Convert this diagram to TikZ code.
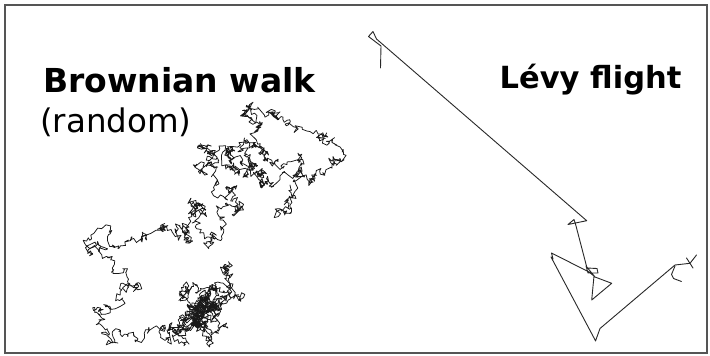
\documentclass[tikz,border=0pt]{standalone}
\usepackage{fontspec}
\setmainfont{DejaVu Sans}
\definecolor{framegray}{RGB}{85,85,85}
\definecolor{inkgray}{RGB}{40,40,40}
\begin{document}
\begin{tikzpicture}[x=1pt,y=-1pt,
  frame/.style={draw=framegray,line width=2pt},
  brownpath/.style={draw=black!90,line width=0.75pt,line join=round,line cap=round},
  levypath/.style={draw=inkgray,line width=0.9pt,line join=round,line cap=round},
  bigtitle/.style={inner sep=0pt,anchor=base west,font=\bfseries\fontsize{33}{38}\selectfont},
  subtitle/.style={inner sep=0pt,anchor=base west,font=\fontsize{32.5}{38}\selectfont},
  levytitle/.style={inner sep=0pt,anchor=base west,font=\bfseries\fontsize{30.5}{36}\selectfont}]
\useasboundingbox (0,0) rectangle (710,356);
\fill[white] (0,0) rectangle (710,356);
\draw[frame] (4.5,4.5) rectangle (706.5,353);

% labels
\node[bigtitle] (brown) at (43,92) {Brownian walk};
\node[subtitle] (random) at (40,132) {(random)};
\node[levytitle] (levy) at (499.5,88) {Lévy flight};

% Brownian walk: a random walk steered through a chain of waypoints,
% drawn one leg at a time
\pgfmathsetseed{4242}
\xdef\wcx{290}\xdef\wcy{185}
\foreach \tx/\ty/\n in {
  278/215/25, 300/180/30, 315/178/18, 342/158/30, 325/140/22, 320/133/12,
  293/130/22, 280/115/22, 258/107/22, 248/118/18, 250/160/80, 245/140/70,
  265/150/35, 300/160/35, 305/175/22, 270/180/35, 250/165/70, 235/170/35,
  222/150/35, 200/143/22, 215/160/35, 205/165/26, 215/185/26, 235/190/22,
  240/207/22, 215/205/26, 197/217/60, 205/205/35, 192/198/26, 190/245/30,
  186/225/22, 165/228/26, 145/233/26, 110/237/26, 90/243/22,
  105/252/18, 130/273/30, 137/285/18, 115/297/22, 100/312/22,
  105/335/26, 115/342/10, 133/332/18, 150/330/18, 170/338/22,
  190/305/50, 222/272/45, 195/320/80, 240/300/45, 185/285/70,
  210/340/55, 200/300/110, 175/330/55, 205/310/90, 192/315/80,
  215/290/60, 195/305/90, 225/325/45, 198/312/80}{
  \xdef\wsx{\wcx}\xdef\wsy{\wcy}
  \xdef\walkpts{}
  \foreach \k in {1,...,\n}{
    \pgfmathsetmacro\wrem{\n-\k+1}
    \pgfmathsetmacro\wnx{\wcx+(\tx-\wcx)/\wrem+4.2*rand}
    \pgfmathsetmacro\wny{\wcy+(\ty-\wcy)/\wrem+4.2*rand}
    \xdef\wcx{\wnx}\xdef\wcy{\wny}
    \xdef\walkpts{\walkpts -- (\wnx,\wny)}
  }
  \edef\walkdraw{\noexpand\draw[brownpath] (\wsx,\wsy) \walkpts;}
  \walkdraw
}

% Levy flight: long jumps between small local clusters
\draw[levypath] (380.5,68) -- (381,46) -- (368.5,36.5) -- (373,31.5) -- (376.5,39)
  -- (586.7,220.7) -- (568,224.5) -- (574,219.5) -- (575.5,224)
  -- (587,268) -- (597,268.5) -- (598,273) -- (588,273) -- (586,266)
  -- (595,277) -- (611.7,283.3) -- (591.7,300) -- (594,276) -- (589,272)
  -- (551.5,253) -- (553,259) -- (551,257) -- (593.5,337) -- (595.5,341)
  -- (600,328.5) -- (675,265) -- (690,263.3) -- (696.5,255);
\draw[levypath] (686.5,258) -- (693,268);
\draw[levypath] (675,266) -- (671.5,274.5) -- (673.5,278.5) -- (681.5,281.5);
\end{tikzpicture}
\end{document}
